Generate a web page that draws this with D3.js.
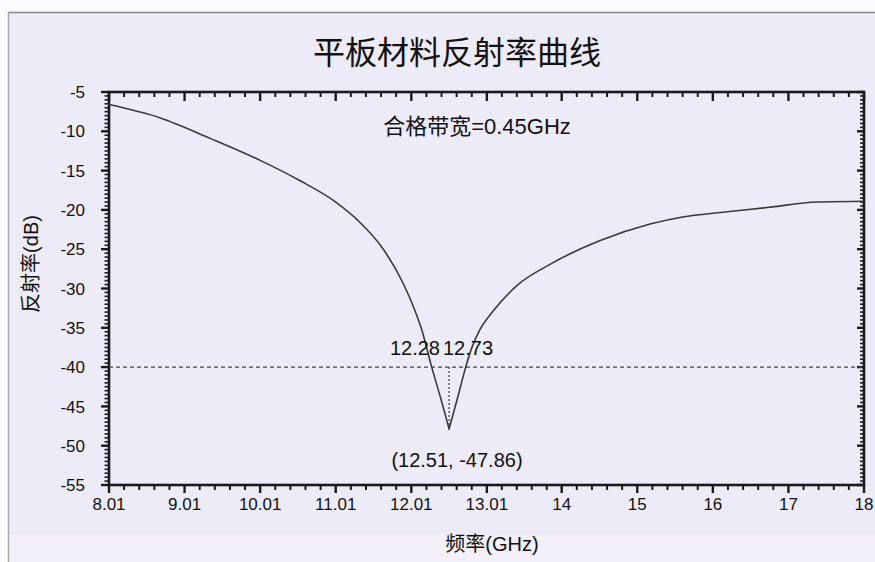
<!DOCTYPE html>
<html>
<head>
<meta charset="utf-8">
<script src="https://cdn.jsdelivr.net/npm/d3@7"></script>
<style>
  html, body { margin: 0; padding: 0; background: #fbfafd; }
  svg { display: block; }
  text { font-family: "Liberation Sans", Arial, "Noto Sans CJK SC", sans-serif; fill: #111; }
  .cjk { font-family: "Liberation Sans", "Noto Sans CJK SC", sans-serif; }
</style>
</head>
<body>
<svg id="chart" width="875" height="562"></svg>
<script>
// Reflectivity of the flat-panel material, frequency in GHz vs reflectivity in dB
const freq = [8.01, 8.69, 9.35, 10.01, 10.54, 11.01, 11.30, 11.64, 11.90, 12.05, 12.15, 12.28,
              12.40, 12.51, 12.62, 12.73, 12.82, 12.92, 13.09, 13.41, 13.85, 14.51,
              15.17, 15.60, 16.13, 16.72, 17.38, 18.00];
const refl = [-6.6, -8.3, -10.9, -13.7, -16.3, -19.0, -21.3, -25.0, -29.3, -32.6, -35.3, -40.0,
              -44.0, -47.86, -44.0, -40.0, -37.3, -35.2, -32.9, -29.6, -26.9, -23.9,
              -21.8, -20.9, -20.3, -19.7, -19.0, -18.9];

const xTicks = [8.01, 9.01, 10.01, 11.01, 12.01, 13.01, 14, 15, 16, 17, 18];
const yTicks = [-5, -10, -15, -20, -25, -30, -35, -40, -45, -50, -55];

const threshold = -40;
const bandLow = 12.28, bandHigh = 12.73;
const minFreq = 12.51, minRefl = -47.86;

const titleText = "平板材料反射率曲线";
const bandText = "合格带宽=0.45GHz";
const xTitle = "频率(GHz)";
const yTitle = "反射率(dB)";

const W = 875, H = 562;
const plot = { left: 109, right: 864, top: 92, bottom: 485 };

const svg = d3.select("#chart");

// paper background with a faint frame on the top and left
svg.append("rect").attr("x", 0).attr("y", 0).attr("width", W).attr("height", H).attr("fill", "#fbfafd");
svg.append("rect").attr("x", 9).attr("y", 13).attr("width", W - 9).attr("height", H - 13).attr("fill", "#eeebf8");
svg.append("rect").attr("x", 9).attr("y", 535).attr("width", W - 9).attr("height", H - 535).attr("fill", "#f3f0fa");
svg.append("line").attr("x1", 8).attr("x2", W).attr("y1", 12.5).attr("y2", 12.5)
  .attr("stroke", "#8a8890").attr("stroke-width", 1.5);
svg.append("line").attr("x1", 8.5).attr("x2", 8.5).attr("y1", 12).attr("y2", H)
  .attr("stroke", "#a6a4ac").attr("stroke-width", 1.5);

const x = d3.scaleLinear().domain([8.01, 18]).range([plot.left, plot.right]);
const y = d3.scaleLinear().domain([-5, -55]).range([plot.top, plot.bottom]);

// minor ticks: five intervals between x majors, 0.5 dB on y
const xMinor = [];
for (let i = 0; i < xTicks.length - 1; i++) {
  const a = xTicks[i], b = xTicks[i + 1];
  for (let k = 1; k < 5; k++) xMinor.push(a + (b - a) * k / 5);
}
const yMinor = d3.range(-5.5, -55, -0.5).filter(v => Math.abs(v % 5) > 0.01);

const axisColor = "#1a1a1a";
const tickLayer = svg.append("g");

// x ticks: bottom edge outward, top edge inward
function xTickRow(vals, y0, len, w) {
  tickLayer.append("g").selectAll("line").data(vals).join("line")
    .attr("x1", d => x(d)).attr("x2", d => x(d))
    .attr("y1", y0).attr("y2", y0 + len)
    .attr("stroke", axisColor)
    .attr("stroke-width", w);
}
xTickRow(xMinor, plot.bottom, 5, 2);
xTickRow(xTicks, plot.bottom, 8, 2.4);
xTickRow(xMinor, plot.top, 5, 2);
xTickRow(xTicks, plot.top, 9, 2.4);

// y ticks: left edge outward, right edge inward
function yTickCol(vals, x0, len, w) {
  tickLayer.append("g").selectAll("line").data(vals).join("line")
    .attr("y1", d => y(d)).attr("y2", d => y(d))
    .attr("x1", x0).attr("x2", x0 - len)
    .attr("stroke", axisColor)
    .attr("stroke-width", w);
}
yTickCol(yMinor, plot.left, 4.5, 1.6);
yTickCol(yTicks, plot.left, 8, 2.4);
yTickCol(yMinor, plot.right, 4, 1.6);
yTickCol(yTicks, plot.right, 7, 2.4);

// tick labels
svg.append("g").selectAll("text").data(xTicks).join("text")
  .attr("x", d => x(d)).attr("y", plot.bottom + 25)
  .attr("text-anchor", "middle").attr("font-size", 17)
  .text(d => String(d));
svg.append("g").selectAll("text").data(yTicks).join("text")
  .attr("x", plot.left - 24).attr("y", d => y(d)).attr("dy", "0.36em")
  .attr("text-anchor", "end").attr("font-size", 17)
  .text(d => String(d));

// plot frame
svg.append("rect")
  .attr("x", plot.left).attr("y", plot.top)
  .attr("width", plot.right - plot.left).attr("height", plot.bottom - plot.top)
  .attr("fill", "none").attr("stroke", axisColor).attr("stroke-width", 2.6);

// -40 dB threshold line
svg.append("line")
  .attr("x1", x(8.01)).attr("x2", x(18)).attr("y1", y(threshold)).attr("y2", y(threshold))
  .attr("stroke", "#444").attr("stroke-width", 1.3).attr("stroke-dasharray", "4,3");

// drop line from the threshold to the minimum
svg.append("line")
  .attr("x1", x(minFreq)).attr("x2", x(minFreq)).attr("y1", y(threshold)).attr("y2", y(minRefl))
  .attr("stroke", "#444").attr("stroke-width", 1.3).attr("stroke-dasharray", "2,2");

// reflectivity curve, drawn as two branches so the minimum stays a sharp notch
const pts = freq.map((f, i) => [f, refl[i]]);
const iMin = d3.minIndex(refl);
const curveLine = d3.line().x(d => x(d[0])).y(d => y(d[1])).curve(d3.curveMonotoneX);
svg.append("g").selectAll("path")
  .data([pts.slice(0, iMin + 1), pts.slice(iMin)])
  .join("path")
  .attr("fill", "none")
  .attr("stroke", "#3a3a3a")
  .attr("stroke-width", 1.6)
  .attr("stroke-linejoin", "round")
  .attr("stroke-linecap", "round")
  .attr("d", curveLine);

// annotations
svg.append("text").attr("class", "cjk").attr("x", 477).attr("y", 134)
  .attr("text-anchor", "middle").attr("font-size", 22).text(bandText);
svg.append("text").attr("x", 440).attr("y", 355).attr("text-anchor", "end")
  .attr("font-size", 20).text(bandLow.toFixed(2));
svg.append("text").attr("x", 443).attr("y", 355).attr("text-anchor", "start")
  .attr("font-size", 20).text(bandHigh.toFixed(2));
svg.append("text").attr("x", 457).attr("y", 467).attr("text-anchor", "middle")
  .attr("font-size", 20).text(`(${minFreq.toFixed(2)}, ${minRefl.toFixed(2)})`);

// titles
svg.append("text").attr("class", "cjk").attr("x", 457).attr("y", 64)
  .attr("text-anchor", "middle").attr("font-size", 32).text(titleText);
svg.append("text").attr("class", "cjk").attr("x", 492).attr("y", 551)
  .attr("text-anchor", "middle").attr("font-size", 20).text(xTitle);
svg.append("text").attr("class", "cjk")
  .attr("transform", "translate(38,264) rotate(-90)")
  .attr("text-anchor", "middle").attr("font-size", 20).text(yTitle);
</script>
</body>
</html>
